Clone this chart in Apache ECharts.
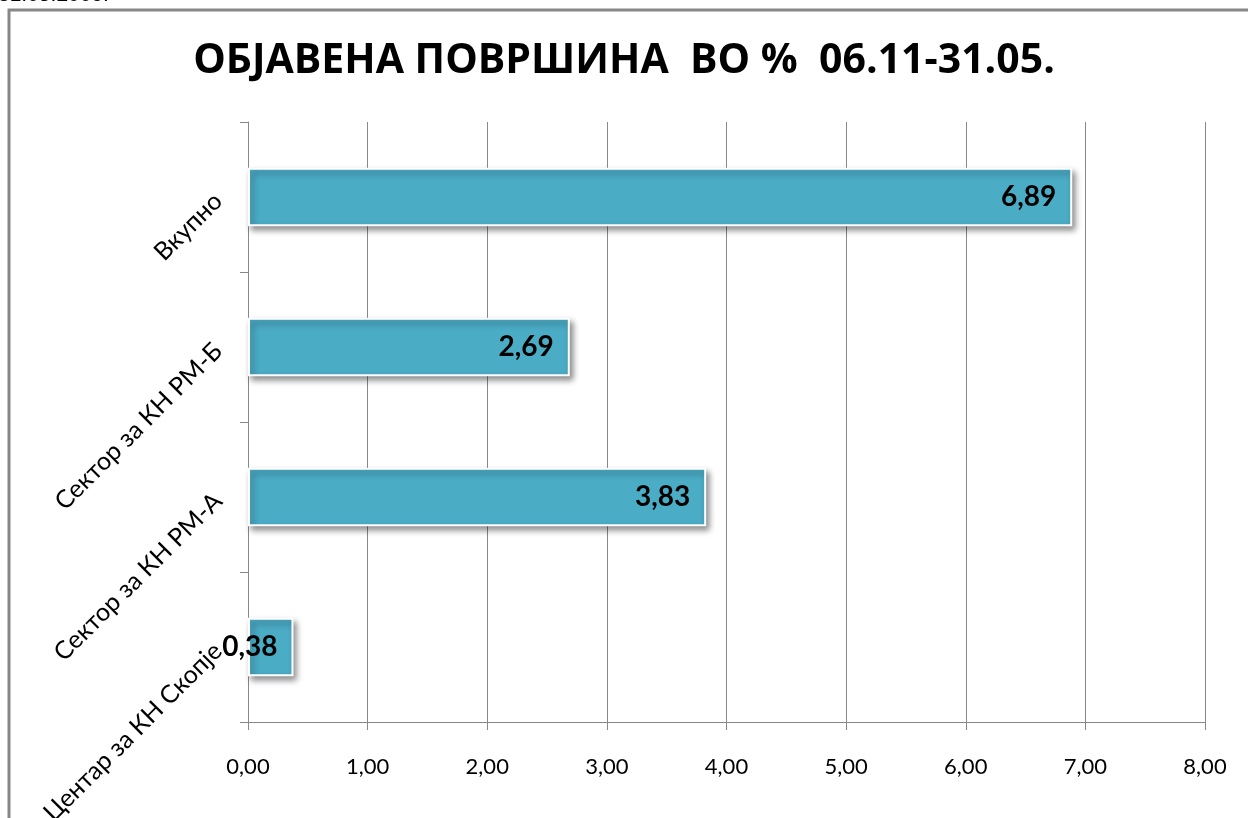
<!DOCTYPE html>
<html>
<head>
<meta charset="utf-8">
<script src="https://cdn.jsdelivr.net/npm/echarts@6/dist/echarts.min.js"></script>
<style>
  html, body { margin: 0; padding: 0; background: #fff; }
  #chart { width: 1248px; height: 818px; }
</style>
</head>
<body>
<div id="chart"></div>
<script>
  // categories top -> bottom
  var categories = ['Вкупно', 'Сектор за КН РМ-Б', 'Сектор за КН РМ-А', 'Центар за КН Скопје'];
  var values = [6.89, 2.69, 3.83, 0.38];
  var titleText = 'ОБЈАВЕНА ПОВРШИНА  ВО %  06.11-31.05.';
  var captionText = '31.05.2009.';

  function comma(v) {
    return Number(v).toFixed(2).replace('.', ',');
  }

  var myChart = echarts.init(document.getElementById('chart'));
  var option = {
    backgroundColor: '#fff',
    animation: false,
    title: {
      text: titleText,
      left: 'center',
      top: 36,
      textStyle: { fontFamily: 'Open Sans', fontSize: 41, fontWeight: 'bold', color: '#000' }
    },
    graphic: [
      {
        type: 'rect',
        shape: { x: 9, y: 10, width: 1260, height: 840 },
        style: { fill: 'none', stroke: '#878787', lineWidth: 3 }
      },
      {
        type: 'text',
        left: -2,
        top: -15,
        style: { text: captionText, font: '21px Liberation Sans', fill: '#000' }
      }
    ],
    grid: { left: 248, right: 43, top: 122, bottom: 96, containLabel: false, outerBoundsMode: 'none' },
    xAxis: {
      type: 'value',
      min: 0,
      max: 8,
      interval: 1,
      axisLine: { show: true, lineStyle: { color: '#888', width: 1 } },
      axisTick: { show: true, length: 8, lineStyle: { color: '#888' } },
      axisLabel: {
        formatter: comma,
        margin: 34,
        fontFamily: 'Lato',
        fontSize: 22,
        color: '#000'
      },
      splitLine: { show: true, lineStyle: { color: '#888', width: 1 } }
    },
    yAxis: {
      type: 'category',
      inverse: true,
      data: categories,
      axisLine: { show: true, onZero: false, lineStyle: { color: '#888', width: 1 } },
      axisTick: { show: true, length: 8, lineStyle: { color: '#888' } },
      axisLabel: {
        rotate: 45,
        margin: 30,
        fontFamily: 'Lato',
        fontSize: 25,
        color: '#000'
      }
    },
    series: [
      {
        type: 'bar',
        data: values,
        barWidth: '39%',
        itemStyle: {
          color: '#4bacc6',
          borderColor: '#fff',
          borderWidth: 2,
          shadowColor: 'rgba(0,0,0,0.45)',
          shadowBlur: 6,
          shadowOffsetX: 3,
          shadowOffsetY: 4
        },
        label: {
          show: true,
          position: 'insideRight',
          distance: 16,
          formatter: function (p) { return comma(p.value); },
          fontFamily: 'Lato',
          fontSize: 28,
          fontWeight: 'bold',
          color: '#000'
        }
      }
    ]
  };
  myChart.setOption(option);
</script>
</body>
</html>
